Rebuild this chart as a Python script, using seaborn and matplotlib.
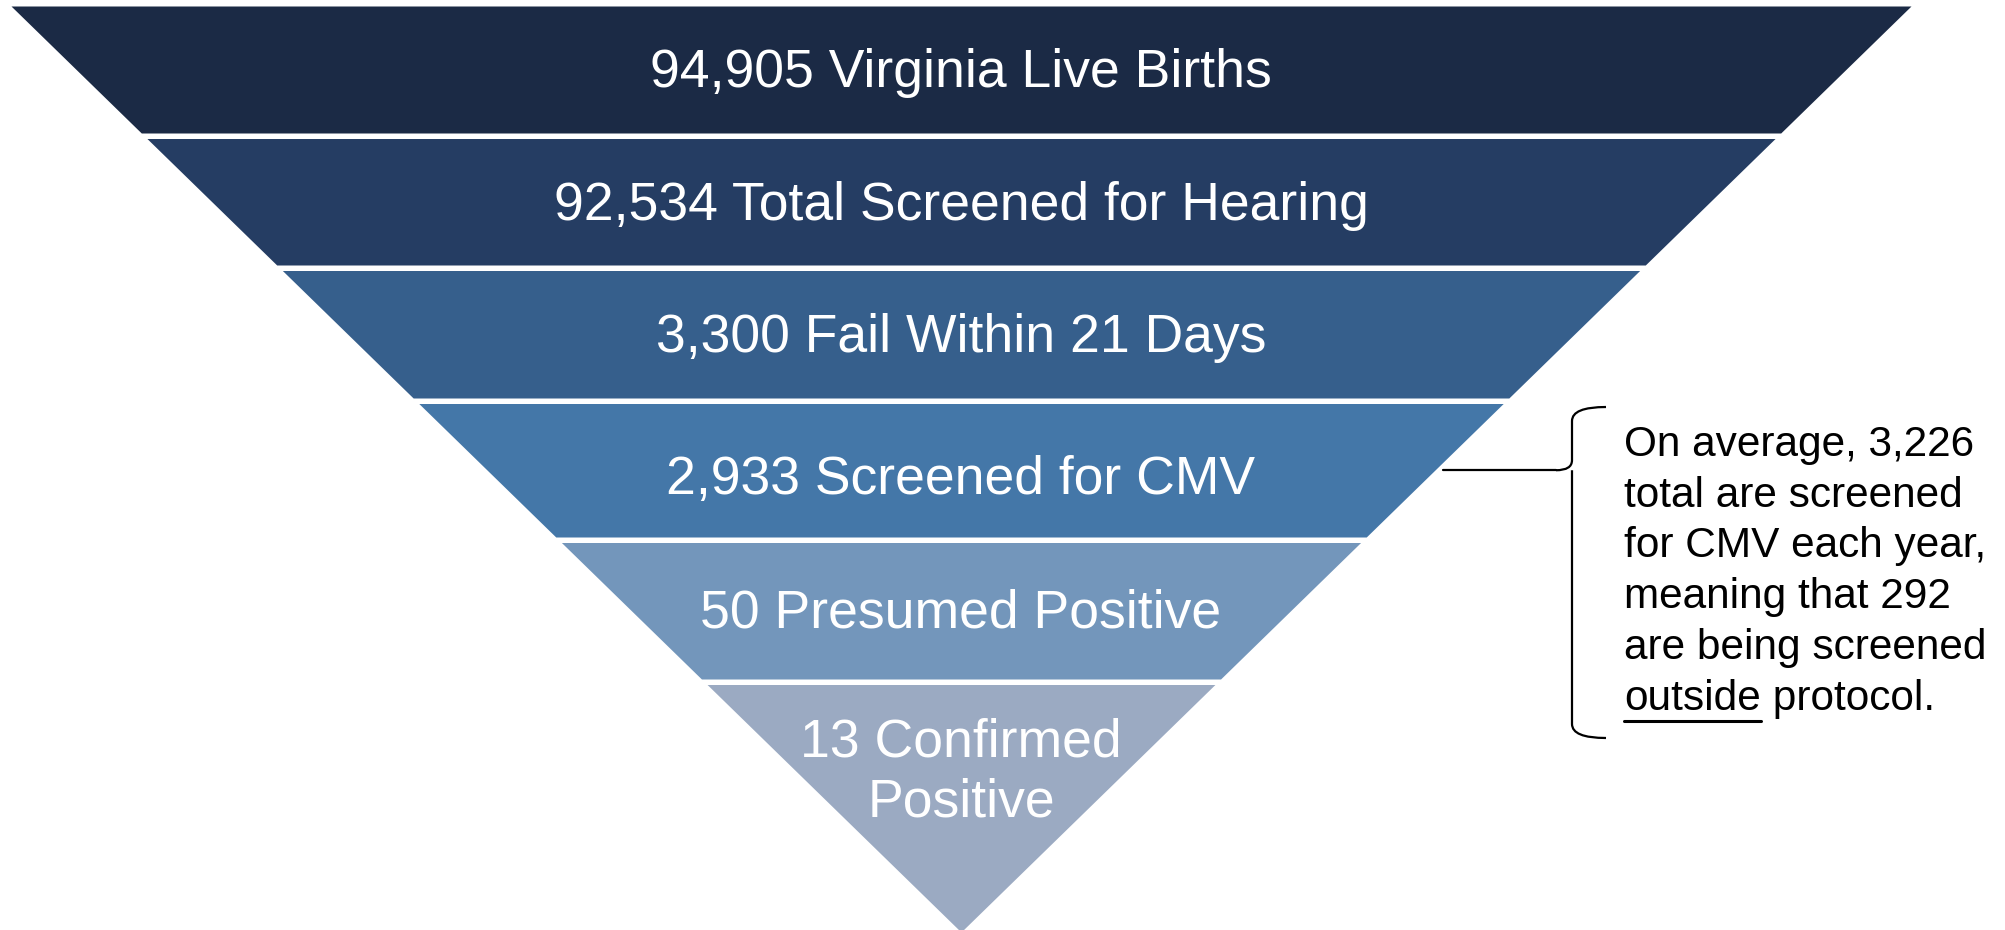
# Newborn hearing / CMV screening funnel

import matplotlib.pyplot as plt
import seaborn as sns
from matplotlib.path import Path
from matplotlib.patches import PathPatch

# Funnel stages, top to bottom
stage_counts = [94905, 92534, 3300, 2933, 50, 13]
stage_names = ['Virginia Live Births', 'Total Screened for Hearing', 'Fail Within 21 Days',
               'Screened for CMV', 'Presumed Positive', 'Confirmed\nPositive']
stage_colors = ['#1b2a45', '#253d63', '#365f8c', '#4477a8', '#7396bb', '#9baac2']

# Side note
note_lines = ['On average, 3,226', 'total are screened', 'for CMV each year,',
              'meaning that 292', 'are being screened']
note_last = ['outside', ' protocol.']
note_stage = 3  # the bracket points at "Screened for CMV"


def main():
    sns.set_theme(style='white')
    plt.rcParams['font.family'] = ['Liberation Sans', 'DejaVu Sans']

    W, H = 2005, 930
    fig = plt.figure(figsize=(W / 100, H / 100), dpi=100)
    ax = fig.add_axes([0, 0, 1, 1])
    ax.set_xlim(0, W)
    ax.set_ylim(H, 0)
    ax.axis('off')

    # triangle geometry (pixel-like data units)
    cx, top, apex, half_top = 961, 6, 932, 950
    bottoms = [133, 265, 398, 537, 679, apex]
    label_shift = [3, 4, 4, 10, 3, 0]
    gap = 5.5

    def half(y):
        return half_top * (apex - y) / (apex - top)

    y0 = top
    centers = []
    for i, (cnt, name) in enumerate(zip(stage_counts, stage_names)):
        y1 = bottoms[i]
        ax.fill_betweenx([y0, y1], [cx - half(y0), cx - half(y1)],
                         [cx + half(y0), cx + half(y1)],
                         color=stage_colors[i], lw=0)
        yc = (y0 + y1) / 2 if i < len(stage_counts) - 1 else y0 + 88
        centers.append((y0 + y1) / 2)
        ax.text(cx, yc + label_shift[i], f'{cnt:,} {name}', color='white',
                fontsize=38.5, ha='center', va='center', linespacing=1.28)
        y0 = y1 + gap

    # curly bracket beside the CMV stage
    by = centers[note_stage]
    bx, btop, bbot, hook = 1572, 407, 738, 1606
    start = cx + half(by) + 8
    verts = [(hook, btop), (bx, btop), (bx, btop + 14), (bx, by - 10),
             (bx, by), (bx - 16, by),
             (bx, by), (bx, by + 10), (bx, bbot - 14),
             (bx, bbot), (hook, bbot)]
    codes = [Path.MOVETO, Path.CURVE3, Path.CURVE3, Path.LINETO,
             Path.CURVE3, Path.CURVE3,
             Path.MOVETO, Path.CURVE3, Path.LINETO,
             Path.CURVE3, Path.CURVE3]
    ax.add_patch(PathPatch(Path(verts, codes), fill=False, lw=1.6, color='black'))
    ax.plot([start, bx - 16], [by, by], color='black', lw=1.6)

    tx, ty0, dy, fs = 1624, 445, 50.7, 30.5
    for k, line in enumerate(note_lines):
        ax.text(tx, ty0 + k * dy, line, fontsize=fs, color='black',
                ha='left', va='center')
    ylast = ty0 + len(note_lines) * dy
    t1 = ax.text(tx, ylast, note_last[0], fontsize=fs, color='black',
                 ha='left', va='center')
    fig.canvas.draw()
    bb = t1.get_window_extent().transformed(ax.transData.inverted())
    x_end = max(bb.x0, bb.x1)
    ax.text(x_end, ylast, note_last[1], fontsize=fs, color='black',
            ha='left', va='center')
    ax.plot([tx, x_end], [ylast + 22, ylast + 22], color='black', lw=2.2)

    fig.savefig('out.png', dpi=100)
    plt.close(fig)


if __name__ == '__main__':
    main()
